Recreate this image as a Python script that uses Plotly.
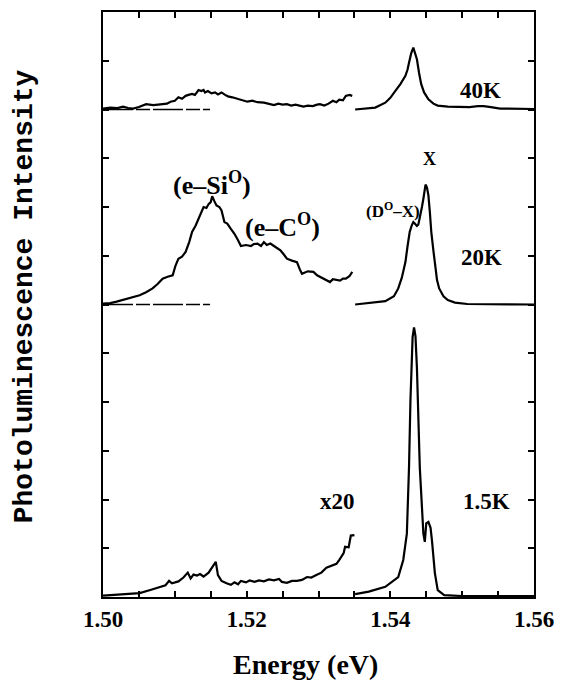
import plotly.graph_objects as go

# ---------------- data ----------------
offsets = {"1.5K": 0.0, "20K": 6.0, "40K": 10.0}

# 1.5K (left part is x20)
k15_left_x = [1.5000, 1.5019, 1.5037, 1.5051, 1.5067, 1.5074, 1.5087, 1.5092, 1.5096, 1.5105,
              1.5112, 1.5118, 1.5122, 1.5126, 1.5131, 1.5135, 1.5140, 1.5147, 1.5152, 1.5157,
              1.5160, 1.5165, 1.5172, 1.5178, 1.5183, 1.5188, 1.5192, 1.5199, 1.5204, 1.5211,
              1.5217, 1.5224, 1.5231, 1.5238, 1.5245, 1.5249, 1.5256, 1.5263, 1.5270, 1.5277,
              1.5284, 1.5290, 1.5297, 1.5304, 1.5311, 1.5318, 1.5325, 1.5329, 1.5335, 1.5337,
              1.5342, 1.5345, 1.5350]
k15_left_y = [0.03, 0.05, 0.07, 0.08, 0.15, 0.18, 0.24, 0.33, 0.28, 0.32,
              0.40, 0.50, 0.38, 0.46, 0.44, 0.47, 0.42, 0.50, 0.60, 0.72,
              0.45, 0.33, 0.28, 0.25, 0.30, 0.26, 0.33, 0.30, 0.34, 0.31,
              0.34, 0.32, 0.36, 0.34, 0.37, 0.31, 0.29, 0.33, 0.33, 0.35,
              0.41, 0.40, 0.45, 0.50, 0.60, 0.64, 0.68, 0.76, 0.90, 1.03,
              1.02, 1.26, 1.27]
k15_right_x = [1.5351, 1.5370, 1.5393, 1.5411, 1.5418, 1.5423, 1.5426, 1.5428, 1.5431, 1.5433,
               1.5435, 1.5437, 1.5441, 1.5444, 1.5446, 1.5448, 1.5450, 1.5453, 1.5456, 1.5458,
               1.5462, 1.5466, 1.5475, 1.5500, 1.5600]
k15_right_y = [0.06, 0.11, 0.21, 0.41, 0.76, 1.30, 2.66, 4.03, 5.33, 5.53,
               5.35, 4.71, 2.66, 1.70, 1.30, 1.13, 1.51, 1.54, 1.42, 1.15,
               0.49, 0.14, 0.04, 0.02, 0.02]

# 20K
k20_left_x = [1.5000, 1.5010, 1.5019, 1.5028, 1.5037, 1.5044, 1.5051, 1.5060, 1.5069, 1.5076,
              1.5083, 1.5090, 1.5097, 1.5101, 1.5105, 1.5110, 1.5115, 1.5120, 1.5124, 1.5129,
              1.5133, 1.5137, 1.5140, 1.5144, 1.5147, 1.5150, 1.5152, 1.5155, 1.5158, 1.5162,
              1.5165, 1.5169, 1.5173, 1.5178, 1.5183, 1.5188, 1.5192, 1.5199, 1.5206, 1.5210,
              1.5215, 1.5220, 1.5224, 1.5228, 1.5233, 1.5238, 1.5243, 1.5247, 1.5252, 1.5256,
              1.5263, 1.5270, 1.5274, 1.5277, 1.5285, 1.5293, 1.5298, 1.5302, 1.5307, 1.5311,
              1.5316, 1.5320, 1.5325, 1.5330, 1.5334, 1.5338, 1.5343, 1.5347]
k20_left_y = [0.02, 0.03, 0.06, 0.10, 0.14, 0.16, 0.19, 0.25, 0.33, 0.42,
              0.53, 0.57, 0.60, 0.80, 0.94, 0.98, 1.08, 1.28, 1.49, 1.62,
              1.76, 1.90, 2.00, 1.98, 2.06, 2.10, 2.22, 2.12, 2.03, 2.00,
              1.93, 1.69, 1.66, 1.55, 1.45, 1.32, 1.20, 1.22, 1.20, 1.24,
              1.25, 1.20, 1.28, 1.22, 1.25, 1.20, 1.14, 1.11, 1.02, 0.94,
              0.90, 0.87, 0.72, 0.63, 0.68, 0.67, 0.60, 0.57, 0.52, 0.50,
              0.46, 0.52, 0.50, 0.49, 0.53, 0.53, 0.58, 0.67]
k20_right_x = [1.5351, 1.5370, 1.5393, 1.5405, 1.5411, 1.5416, 1.5421, 1.5424, 1.5427, 1.5430,
               1.5432, 1.5434, 1.5437, 1.5439, 1.5441, 1.5444, 1.5446, 1.5448, 1.5449, 1.5451,
               1.5453, 1.5455, 1.5457, 1.5460, 1.5462, 1.5465, 1.5468, 1.5474, 1.5480, 1.5490,
               1.5507, 1.5600]
k20_right_y = [0.00, 0.03, 0.07, 0.17, 0.33, 0.55, 0.87, 1.20, 1.49, 1.63,
               1.69, 1.66, 1.61, 1.64, 1.76, 2.00, 2.17, 2.38, 2.46, 2.40,
               2.24, 1.90, 1.49, 1.10, 0.81, 0.50, 0.33, 0.17, 0.09, 0.04,
               0.01, 0.00]

# 40K
k40_left_x = [1.5000, 1.5010, 1.5020, 1.5028, 1.5035, 1.5042, 1.5050, 1.5060, 1.5070, 1.5078,
              1.5083, 1.5089, 1.5094, 1.5100, 1.5105, 1.5110, 1.5115, 1.5119, 1.5124, 1.5128,
              1.5133, 1.5137, 1.5140, 1.5142, 1.5146, 1.5151, 1.5156, 1.5160, 1.5165, 1.5170,
              1.5174, 1.5180, 1.5188, 1.5194, 1.5201, 1.5208, 1.5215, 1.5224, 1.5230, 1.5238,
              1.5244, 1.5250, 1.5256, 1.5262, 1.5268, 1.5274, 1.5279, 1.5285, 1.5292, 1.5298,
              1.5302, 1.5308, 1.5314, 1.5320, 1.5325, 1.5329, 1.5334, 1.5338, 1.5343, 1.5347]
k40_left_y = [0.02, 0.04, 0.03, 0.06, 0.03, 0.02, 0.05, 0.11, 0.09, 0.11,
              0.11, 0.12, 0.16, 0.18, 0.25, 0.22, 0.28, 0.30, 0.32, 0.30,
              0.40, 0.38, 0.40, 0.35, 0.38, 0.33, 0.35, 0.31, 0.35, 0.30,
              0.27, 0.25, 0.21, 0.19, 0.16, 0.18, 0.15, 0.14, 0.12, 0.09,
              0.12, 0.10, 0.11, 0.08, 0.10, 0.08, 0.06, 0.08, 0.07, 0.10,
              0.11, 0.08, 0.12, 0.18, 0.15, 0.20, 0.19, 0.28, 0.30, 0.28]
k40_right_x = [1.5351, 1.5365, 1.5379, 1.5393, 1.5400, 1.5407, 1.5414, 1.5421, 1.5424, 1.5426,
               1.5429, 1.5432, 1.5434, 1.5437, 1.5440, 1.5443, 1.5447, 1.5453, 1.5460, 1.5466,
               1.5480, 1.5494, 1.5510, 1.5522, 1.5530, 1.5540, 1.5553, 1.5600]
k40_right_y = [0.00, 0.02, 0.04, 0.14, 0.24, 0.38, 0.52, 0.69, 0.82, 0.96,
               1.15, 1.27, 1.18, 1.03, 0.75, 0.52, 0.35, 0.21, 0.12, 0.08,
               0.06, 0.05, 0.05, 0.07, 0.07, 0.05, 0.02, 0.01]

# baseline reference segments (for the x20 region)
base_x = [1.5000, 1.5149]

x_tickvals = [1.500, 1.505, 1.510, 1.515, 1.520, 1.525, 1.530, 1.535, 1.540, 1.545, 1.550, 1.555, 1.560]
x_ticktext = ["1.50", "", "", "", "1.52", "", "", "", "1.54", "", "", "", "1.56"]
y_tickvals = list(range(0, 13))

# ---------------- figure ----------------
fig = go.Figure()
line_style = dict(color="black", width=2.2)

series = [
    ("1.5K", k15_left_x, k15_left_y, k15_right_x, k15_right_y),
    ("20K", k20_left_x, k20_left_y, k20_right_x, k20_right_y),
    ("40K", k40_left_x, k40_left_y, k40_right_x, k40_right_y),
]
for name, lx, ly, rx, ry in series:
    off = offsets[name]
    fig.add_trace(go.Scatter(x=lx, y=[v + off for v in ly], mode="lines",
                             line=line_style, showlegend=False, hoverinfo="skip"))
    fig.add_trace(go.Scatter(x=rx, y=[v + off for v in ry], mode="lines",
                             line=line_style, showlegend=False, hoverinfo="skip"))
    if off > 0:
        fig.add_trace(go.Scatter(x=base_x, y=[off, off], mode="lines",
                                 line=dict(color="black", width=1.5, dash="30px,3px,14px,3px"),
                                 showlegend=False, hoverinfo="skip"))

serif = "Liberation Serif"
annots = [
    dict(x=1.5526, y=10.38, text="40K", size=23),
    dict(x=1.5527, y=6.96, text="20K", size=23),
    dict(x=1.5534, y=1.96, text="1.5K", size=23),
    dict(x=1.5327, y=1.96, text="x20", size=23),
    dict(x=1.5152, y=8.49, text="(e\u2013Si<sup>O</sup>)", size=26),
    dict(x=1.5250, y=7.62, text="(e\u2013C<sup>O</sup>)", size=26),
    dict(x=1.5404, y=7.94, text="(D<sup>O</sup>\u2013X)", size=17),
    dict(x=1.5455, y=8.98, text="X", size=18),
]
for a in annots:
    fig.add_annotation(x=a["x"], y=a["y"], text="<b>" + a["text"] + "</b>", showarrow=False,
                       xanchor="center", yanchor="middle",
                       font=dict(family=serif, size=a["size"], color="black"))

fig.add_annotation(xref="paper", yref="paper", x=(309 - 103) / 438, y=(597 - 665) / 587,
                   text="<b>Energy (eV)</b>", showarrow=False, xanchor="center", yanchor="middle",
                   font=dict(family=serif, size=28, color="black"))
fig.add_annotation(xref="paper", yref="paper", x=(23 - 103) / 438, y=(597 - 295) / 587,
                   text="<b>Photoluminescence Intensity</b>", showarrow=False, textangle=-90,
                   xanchor="center", yanchor="middle",
                   font=dict(family="Liberation Mono", size=28, color="black"))

axis_common = dict(showline=True, linewidth=2, linecolor="black", mirror="ticks",
                   ticks="inside", ticklen=6, tickwidth=1.5, tickcolor="black",
                   showgrid=False, zeroline=False)
fig.update_xaxes(range=[1.50, 1.56], tickvals=x_tickvals,
                 ticktext=["<b>" + t + "</b>" if t else "" for t in x_ticktext],
                 tickfont=dict(family=serif, size=23, color="black"), **axis_common)
fig.update_yaxes(range=[0, 12], tickvals=y_tickvals, showticklabels=False, **axis_common)

fig.update_layout(width=564, height=683, margin=dict(l=103, r=23, t=10, b=86),
                  paper_bgcolor="white", plot_bgcolor="white")

fig.write_html("out.html")
